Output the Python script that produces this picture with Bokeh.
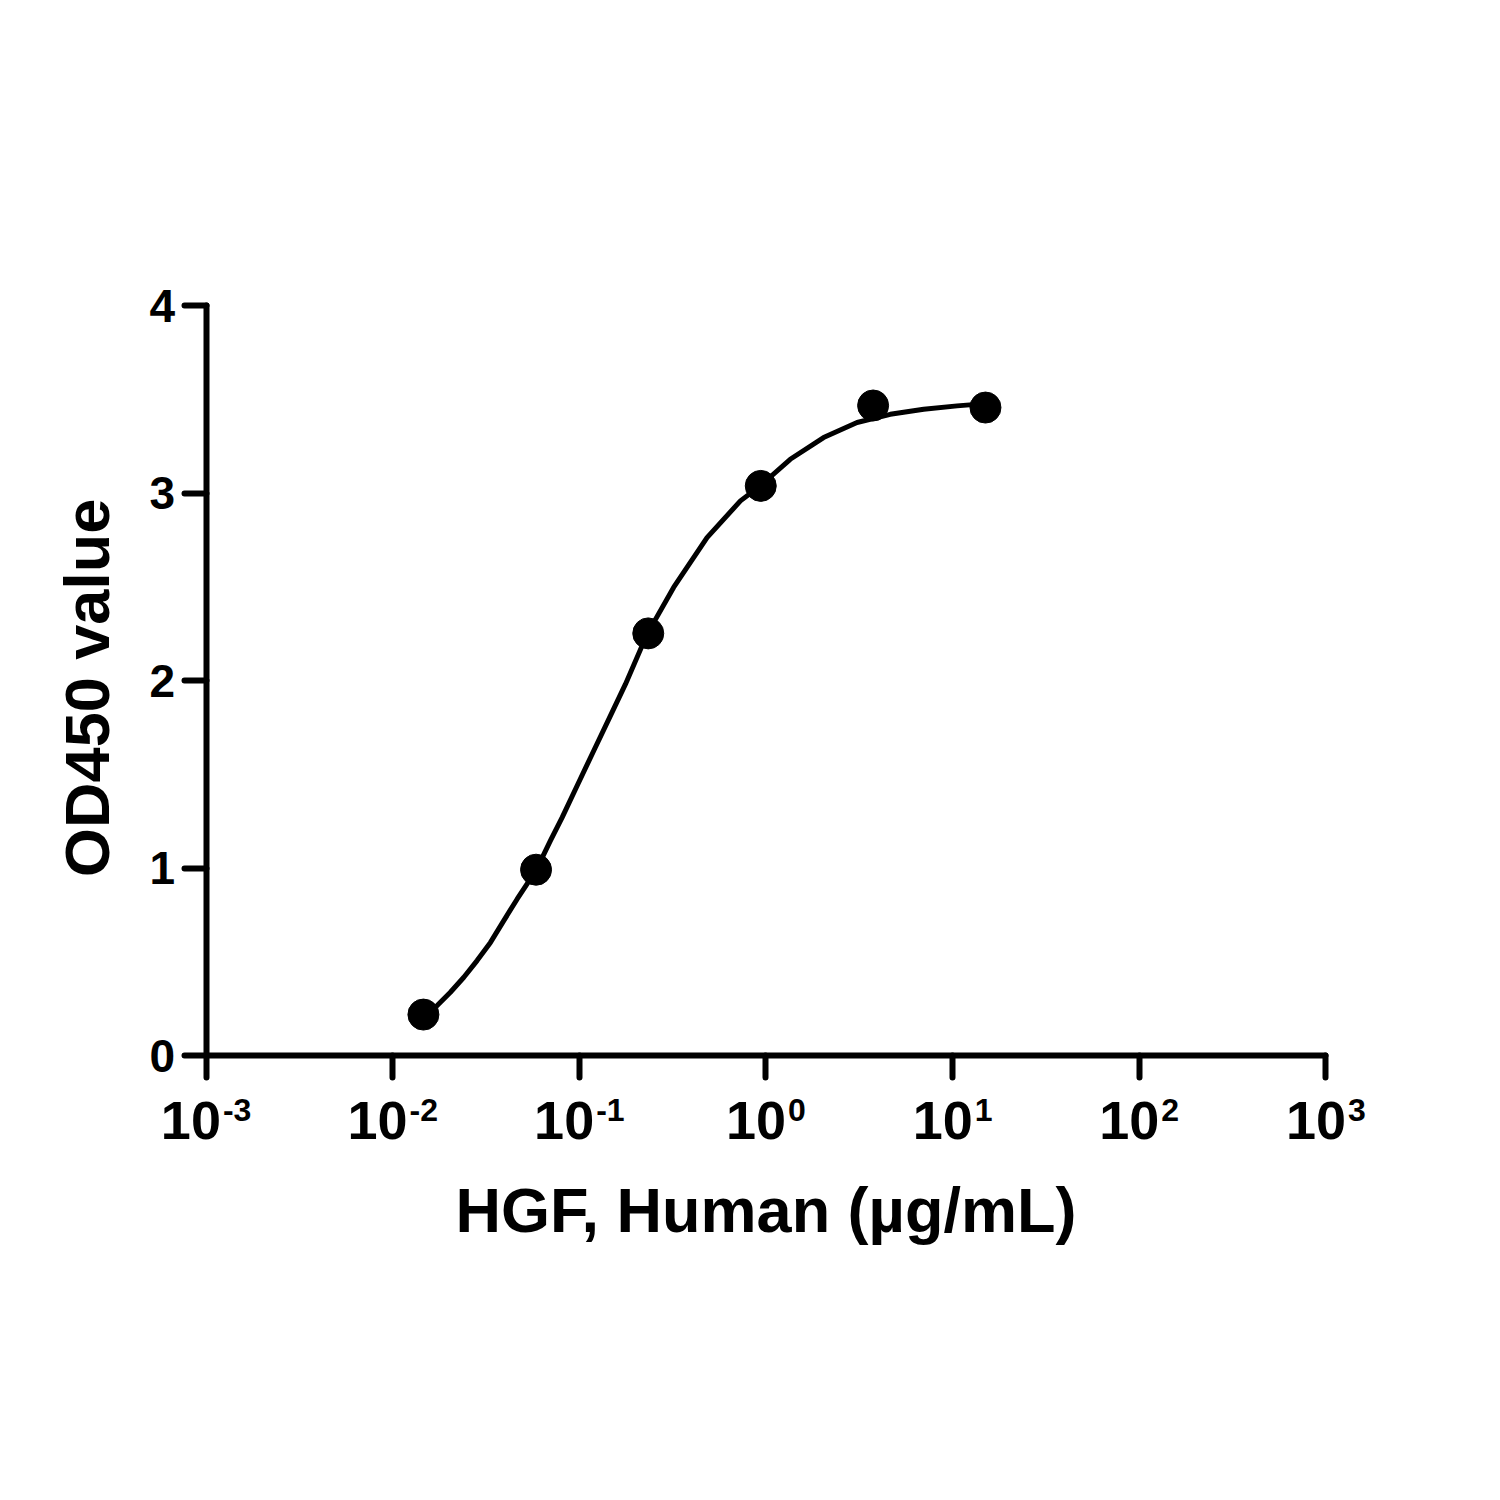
import math
from bokeh.plotting import figure
from bokeh.models import FixedTicker, Label, ColumnDataSource
from bokeh.embed import file_html
from bokeh.resources import INLINE

# ---- data ----
conc = [0.0146, 0.0586, 0.234, 0.9375, 3.75, 15.0]          # HGF, Human (µg/mL)
od450 = [0.219, 0.992, 2.253, 3.040, 3.469, 3.458]           # OD450 value

# fitted curve
curve_conc = [0.01456, 0.01730, 0.02037, 0.02404, 0.02831, 0.03340, 0.03936,
              0.04645, 0.05248, 0.05888, 0.06998, 0.08091, 0.09727, 0.1194,
              0.1466, 0.1766, 0.2307, 0.3199, 0.4831, 0.7295, 0.9303, 1.349,
              2.035, 3.076, 4.634, 6.998, 10.57, 14.96]
curve_od = [0.219, 0.267, 0.338, 0.418, 0.507, 0.604, 0.720,
            0.836, 0.916, 0.992, 1.147, 1.271, 1.440, 1.627,
            1.813, 1.982, 2.249, 2.498, 2.764, 2.960, 3.040, 3.182,
            3.298, 3.378, 3.422, 3.449, 3.467, 3.479]

x_ticks = [1e-3, 1e-2, 1e-1, 1e0, 1e1, 1e2, 1e3]
x_tick_base = ["10"] * 7
x_tick_exp = ["-3", "-2", "-1", "0", "1", "2", "3"]
y_ticks = [0, 1, 2, 3, 4]
x_title = "HGF, Human (µg/mL)"
y_title = "OD450 value"

FONT = "Liberation Sans"

# the frame covers the whole drawing; axes sit at fixed locations inside it
p = figure(frame_width=1353, frame_height=1012,
           x_axis_type="log", x_range=(1e-4, 10 ** 3.25), y_range=(-1.2, 4.2),
           output_backend="svg", toolbar_location=None,
           min_border_left=19, min_border_right=10,
           min_border_top=268, min_border_bottom=10)
p.outline_line_color = None
p.xgrid.visible = False
p.ygrid.visible = False
p.background_fill_color = "white"
p.border_fill_color = "white"

for ax in (p.xaxis[0], p.yaxis[0]):
    ax.axis_line_width = 6
    ax.axis_line_color = "black"
    ax.axis_line_cap = "round"
    ax.major_tick_line_width = 6
    ax.major_tick_line_color = "black"
    ax.major_tick_line_cap = "round"
    ax.major_tick_in = 0
    ax.major_tick_out = 22
    ax.minor_tick_line_color = None
    ax.major_label_text_font = FONT
    ax.major_label_text_font_style = "bold"
    ax.major_label_text_color = "black"

xa = p.xaxis[0]
xa.fixed_location = 0
xa.bounds = (x_ticks[0], x_ticks[-1])
xa.ticker = FixedTicker(ticks=x_ticks, minor_ticks=[])
xa.major_label_overrides = {t: "" for t in x_ticks}
xa.major_label_text_font_size = "1px"

ya = p.yaxis[0]
ya.fixed_location = x_ticks[0]
ya.bounds = (y_ticks[0], y_ticks[-1])
ya.ticker = FixedTicker(ticks=y_ticks, minor_ticks=[])
ya.major_label_text_font_size = "46px"
ya.major_label_standoff = 9

# x tick labels: "10" with a superscript exponent
base_fs, sup_fs = 54, 32
for t, b, e in zip(x_ticks, x_tick_base, x_tick_exp):
    w10 = 0.556 * base_fs * len(b)
    wsup = sum((0.333 if ch == "-" else 0.556) for ch in e) * sup_fs
    left = -(w10 + 2 + wsup) / 2
    p.add_layout(Label(x=t, y=0, x_offset=left, y_offset=-65, text=b,
                       text_font=FONT, text_font_style="bold",
                       text_font_size=f"{base_fs}px", text_align="left",
                       text_baseline="alphabetic", text_color="black"))
    p.add_layout(Label(x=t, y=0, x_offset=left + w10 + 2, y_offset=-54, text=e,
                       text_font=FONT, text_font_style="bold",
                       text_font_size=f"{sup_fs}px", text_align="left",
                       text_baseline="alphabetic", text_color="black"))

# axis titles
p.add_layout(Label(x=1.0, y=0, y_offset=-154, text=x_title,
                   text_font=FONT, text_font_style="bold", text_font_size="63px",
                   text_align="center", text_baseline="alphabetic", text_color="black"))
p.add_layout(Label(x=x_ticks[0], y=2, x_offset=-119, y_offset=-7, angle=math.pi / 2,
                   text=y_title, text_font=FONT, text_font_style="bold",
                   text_font_size="63px", text_align="center",
                   text_baseline="alphabetic", text_color="black"))

# curve and points
p.line(curve_conc, curve_od, line_color="black", line_width=5, line_join="round")
src = ColumnDataSource(dict(x=conc, y=od450))
p.scatter("x", "y", source=src, size=31, fill_color="black", line_color="black")

open("out.html", "w").write(file_html(p, INLINE))
